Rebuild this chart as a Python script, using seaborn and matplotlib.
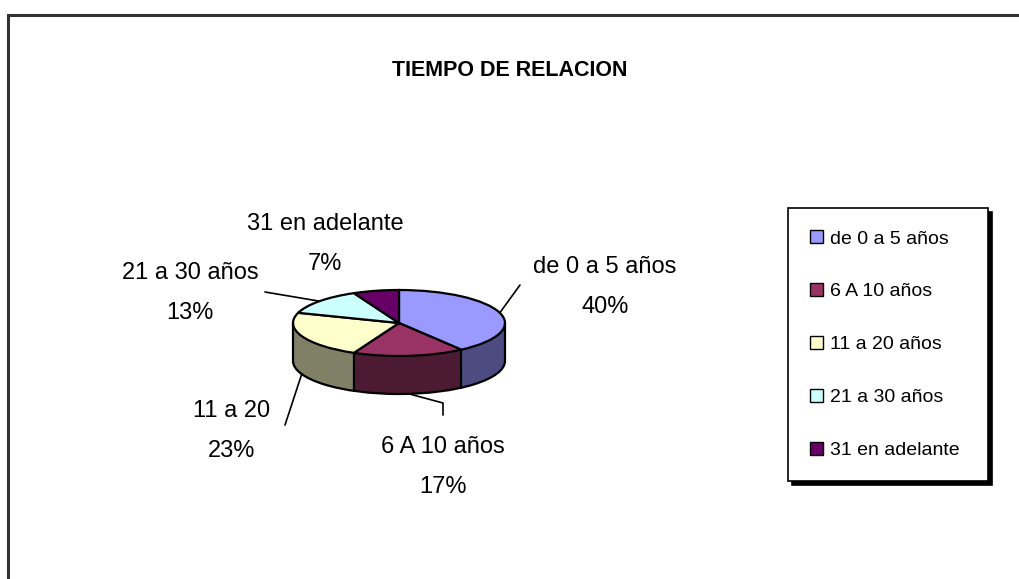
import numpy as np
import matplotlib.pyplot as plt
from matplotlib.patches import Arc, Rectangle
import seaborn as sns

sns.set_theme(style='white')
plt.rcParams['font.family'] = ['Liberation Sans', 'DejaVu Sans']
plt.rcParams['text.color'] = 'black'

title = "TIEMPO DE RELACION"
categories = ["de 0 a 5 años", "6 A 10 años", "11 a 20 años", "21 a 30 años", "31 en adelante"]
slice_labels = ["de 0 a 5 años", "6 A 10 años", "11 a 20", "21 a 30 años", "31 en adelante"]
values = [40, 17, 23, 13, 7]
top_colors = ["#9999FF", "#993366", "#FFFFCC", "#CCFFFF", "#660066"]
side_colors = ["#4C4C80", "#4D1A33", "#808066", "#668080", "#330033"]

W, H = 1019, 579
cx, cy = 399, 323      # centre of the top face, pixels
rx, ry = 106, 33       # radii of the ellipse, pixels
depth = 38 / ry        # thickness of the pie, in y units


def px(x, y):
    return (x / W, 1 - y / H)


fig = plt.figure(figsize=(W / 100, H / 100), dpi=100)
ax = fig.add_axes([0, 0, 1, 1])

# side walls: many stacked dark layers
for off in np.linspace(-depth, 0, 50):
    ax.pie(values, colors=side_colors, startangle=90, counterclock=False,
           center=(0, off), radius=1, wedgeprops=dict(linewidth=0))

ax.add_patch(Arc((0, -depth), 2, 2, theta1=180, theta2=360, color='black', lw=1.6))
edges = 90 - 360 * np.cumsum([0] + values) / sum(values)
for a in np.radians(edges):
    if np.sin(a) < 0:
        ax.plot([np.cos(a)] * 2, [np.sin(a), np.sin(a) - depth], color='black', lw=1.6)
for xe in (-1, 1):
    ax.plot([xe, xe], [0, -depth], color='black', lw=1.6)

wedges, _ = ax.pie(values, colors=top_colors, startangle=90, counterclock=False,
                   center=(0, 0), radius=1,
                   wedgeprops=dict(edgecolor='black', linewidth=1.6))

ax.set_aspect('auto')
ax.set_xlim(-cx / rx, (W - cx) / rx)
ax.set_ylim((cy - H) / ry, cy / ry)
ax.axis('off')

# labels, with leader lines from the wedge middles
label_pos = [(605, 287), (443, 467), (232, 431), (190, 293), (325, 244)]
line_end = [(520, 285), (443, 415), (285, 425), (265, 292), None]
line_knee = [None, (443, 403), None, None, None]
mids = np.radians(90 - 360 * (np.cumsum(values) - np.array(values) / 2) / sum(values))
for i, (lab, v) in enumerate(zip(slice_labels, values)):
    fig.text(*px(*label_pos[i]), f"{lab}\n{v}%", ha='center', va='center',
             fontsize=17, linespacing=2.05, color='black')
    if line_end[i] is None:
        continue
    x0, y0 = np.cos(mids[i]), np.sin(mids[i])
    if y0 < 0:
        y0 -= depth
    sx, sy = cx + rx * x0, cy - ry * y0
    pts = [(sx, sy)] + ([line_knee[i]] if line_knee[i] else []) + [line_end[i]]
    xs = [p[0] / W for p in pts]
    ys = [1 - p[1] / H for p in pts]
    fig.add_artist(plt.Line2D(xs, ys, color='black', lw=1.2, transform=fig.transFigure))

fig.text(*px(510, 70), title, ha='center', va='center', fontsize=15.5,
         fontweight='bold', color='black')

leg = fig.legend(wedges, categories, loc='upper left',
                 bbox_to_anchor=(788 / W, 1 - 214 / H, 200 / W, 0.01), mode='expand',
                 frameon=True, fancybox=False, shadow={'color': 'black', 'alpha': 1, 'ox': 3, 'oy': -3},
                 fontsize=14, labelspacing=1.83, handlelength=0.65, handleheight=0.65,
                 handletextpad=0.4, borderpad=1.13, borderaxespad=0)
leg.get_frame().set_edgecolor('black')
leg.get_frame().set_linewidth(1.2)
for h in leg.legend_handles:
    h.set_linewidth(1.0)
for t in leg.get_texts():
    t.set_color('black')

fig.add_artist(Rectangle((8 / W, -0.1), 1.2, 0.1 + 1 - 15 / H, fill=False,
                         edgecolor='#333333', lw=2.2, transform=fig.transFigure))

fig.savefig('out.png', dpi=100)
